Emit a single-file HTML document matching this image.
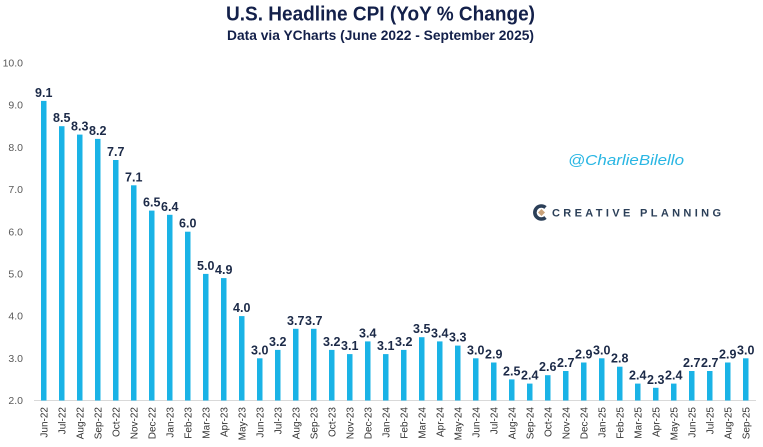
<!DOCTYPE html>
<html><head><meta charset="utf-8"><style>
html,body{margin:0;padding:0;background:#fff;}
svg{display:block;}
text{font-family:"Liberation Sans",Arial,sans-serif;}
.v{font-size:12.5px;font-weight:bold;fill:#1c2a48;text-anchor:middle;}
.t{font-size:10.5px;fill:#595959;text-anchor:end;}
.x{font-size:10px;fill:#333;text-anchor:end;}
</style></head><body>
<svg width="763" height="447" viewBox="0 0 763 447" xmlns="http://www.w3.org/2000/svg">
<rect width="763" height="447" fill="#fff"/>
<text x="226" y="20.5" font-size="20" font-weight="bold" fill="#13204a" textLength="309" lengthAdjust="spacingAndGlyphs">U.S. Headline CPI (YoY % Change)</text>
<text x="227" y="40" font-size="14" font-weight="bold" fill="#13204a" textLength="307" lengthAdjust="spacingAndGlyphs">Data via YCharts (June 2022 - September 2025)</text>

<g>
<text class="t" x="23" y="66.5">10.0</text>
<text class="t" x="23" y="108.7">9.0</text>
<text class="t" x="23" y="150.9">8.0</text>
<text class="t" x="23" y="193.1">7.0</text>
<text class="t" x="23" y="235.3">6.0</text>
<text class="t" x="23" y="277.5">5.0</text>
<text class="t" x="23" y="319.7">4.0</text>
<text class="t" x="23" y="361.9">3.0</text>
<text class="t" x="23" y="404.1">2.0</text>
</g>

<line x1="34" y1="400.5" x2="756" y2="400.5" stroke="#d9d9d9" stroke-width="1"/>

<g fill="#1ab3e6">
<rect x="41" y="100.9" width="5.5" height="299.6"/>
<rect x="59" y="126.2" width="5.5" height="274.3"/>
<rect x="77" y="134.6" width="5.5" height="265.9"/>
<rect x="95" y="138.9" width="5.5" height="261.6"/>
<rect x="113" y="160.0" width="5.5" height="240.5"/>
<rect x="131" y="185.3" width="5.5" height="215.2"/>
<rect x="149" y="210.6" width="5.5" height="189.9"/>
<rect x="167" y="214.8" width="5.5" height="185.7"/>
<rect x="185" y="231.7" width="5.5" height="168.8"/>
<rect x="203" y="273.9" width="5.5" height="126.6"/>
<rect x="221" y="278.1" width="5.5" height="122.4"/>
<rect x="239" y="316.1" width="5.5" height="84.4"/>
<rect x="257" y="358.3" width="5.5" height="42.2"/>
<rect x="275" y="349.9" width="5.5" height="50.6"/>
<rect x="293" y="328.8" width="5.5" height="71.7"/>
<rect x="311" y="328.8" width="5.5" height="71.7"/>
<rect x="329" y="349.9" width="5.5" height="50.6"/>
<rect x="347" y="354.1" width="5.5" height="46.4"/>
<rect x="365" y="341.4" width="5.5" height="59.1"/>
<rect x="383" y="354.1" width="5.5" height="46.4"/>
<rect x="401" y="349.9" width="5.5" height="50.6"/>
<rect x="419" y="337.2" width="5.5" height="63.3"/>
<rect x="437" y="341.4" width="5.5" height="59.1"/>
<rect x="455" y="345.6" width="5.5" height="54.9"/>
<rect x="473" y="358.3" width="5.5" height="42.2"/>
<rect x="491" y="362.5" width="5.5" height="38.0"/>
<rect x="509" y="379.4" width="5.5" height="21.1"/>
<rect x="527" y="383.6" width="5.5" height="16.9"/>
<rect x="545" y="375.2" width="5.5" height="25.3"/>
<rect x="563" y="371.0" width="5.5" height="29.5"/>
<rect x="581" y="362.5" width="5.5" height="38.0"/>
<rect x="599" y="358.3" width="5.5" height="42.2"/>
<rect x="617" y="366.7" width="5.5" height="33.8"/>
<rect x="635" y="383.6" width="5.5" height="16.9"/>
<rect x="653" y="387.8" width="5.5" height="12.7"/>
<rect x="671" y="383.6" width="5.5" height="16.9"/>
<rect x="689" y="371.0" width="5.5" height="29.5"/>
<rect x="707" y="371.0" width="5.5" height="29.5"/>
<rect x="725" y="362.5" width="5.5" height="38.0"/>
<rect x="743" y="358.3" width="5.5" height="42.2"/>
</g>

<g>
<text class="v" x="43.75" y="96.9">9.1</text>
<text class="v" x="61.75" y="122.2">8.5</text>
<text class="v" x="79.75" y="130.6">8.3</text>
<text class="v" x="97.75" y="134.9">8.2</text>
<text class="v" x="115.75" y="156.0">7.7</text>
<text class="v" x="133.75" y="181.3">7.1</text>
<text class="v" x="151.75" y="206.6">6.5</text>
<text class="v" x="169.75" y="210.8">6.4</text>
<text class="v" x="187.75" y="227.7">6.0</text>
<text class="v" x="205.75" y="269.9">5.0</text>
<text class="v" x="223.75" y="274.1">4.9</text>
<text class="v" x="241.75" y="312.1">4.0</text>
<text class="v" x="259.75" y="354.3">3.0</text>
<text class="v" x="277.75" y="345.9">3.2</text>
<text class="v" x="295.75" y="324.8">3.7</text>
<text class="v" x="313.75" y="324.8">3.7</text>
<text class="v" x="331.75" y="345.9">3.2</text>
<text class="v" x="349.75" y="350.1">3.1</text>
<text class="v" x="367.75" y="337.4">3.4</text>
<text class="v" x="385.75" y="350.1">3.1</text>
<text class="v" x="403.75" y="345.9">3.2</text>
<text class="v" x="421.75" y="333.2">3.5</text>
<text class="v" x="439.75" y="337.4">3.4</text>
<text class="v" x="457.75" y="341.6">3.3</text>
<text class="v" x="475.75" y="354.3">3.0</text>
<text class="v" x="493.75" y="358.5">2.9</text>
<text class="v" x="511.75" y="375.4">2.5</text>
<text class="v" x="529.75" y="379.6">2.4</text>
<text class="v" x="547.75" y="371.2">2.6</text>
<text class="v" x="565.75" y="367.0">2.7</text>
<text class="v" x="583.75" y="358.5">2.9</text>
<text class="v" x="601.75" y="354.3">3.0</text>
<text class="v" x="619.75" y="362.7">2.8</text>
<text class="v" x="637.75" y="379.6">2.4</text>
<text class="v" x="655.75" y="383.8">2.3</text>
<text class="v" x="673.75" y="379.6">2.4</text>
<text class="v" x="691.75" y="367.0">2.7</text>
<text class="v" x="709.75" y="367.0">2.7</text>
<text class="v" x="727.75" y="358.5">2.9</text>
<text class="v" x="745.75" y="354.3">3.0</text>
</g>

<g>
<text class="x" transform="translate(47.25,407) rotate(-90)">Jun-22</text>
<text class="x" transform="translate(65.25,407) rotate(-90)">Jul-22</text>
<text class="x" transform="translate(83.25,407) rotate(-90)">Aug-22</text>
<text class="x" transform="translate(101.25,407) rotate(-90)">Sep-22</text>
<text class="x" transform="translate(119.25,407) rotate(-90)">Oct-22</text>
<text class="x" transform="translate(137.25,407) rotate(-90)">Nov-22</text>
<text class="x" transform="translate(155.25,407) rotate(-90)">Dec-22</text>
<text class="x" transform="translate(173.25,407) rotate(-90)">Jan-23</text>
<text class="x" transform="translate(191.25,407) rotate(-90)">Feb-23</text>
<text class="x" transform="translate(209.25,407) rotate(-90)">Mar-23</text>
<text class="x" transform="translate(227.25,407) rotate(-90)">Apr-23</text>
<text class="x" transform="translate(245.25,407) rotate(-90)">May-23</text>
<text class="x" transform="translate(263.25,407) rotate(-90)">Jun-23</text>
<text class="x" transform="translate(281.25,407) rotate(-90)">Jul-23</text>
<text class="x" transform="translate(299.25,407) rotate(-90)">Aug-23</text>
<text class="x" transform="translate(317.25,407) rotate(-90)">Sep-23</text>
<text class="x" transform="translate(335.25,407) rotate(-90)">Oct-23</text>
<text class="x" transform="translate(353.25,407) rotate(-90)">Nov-23</text>
<text class="x" transform="translate(371.25,407) rotate(-90)">Dec-23</text>
<text class="x" transform="translate(389.25,407) rotate(-90)">Jan-24</text>
<text class="x" transform="translate(407.25,407) rotate(-90)">Feb-24</text>
<text class="x" transform="translate(425.25,407) rotate(-90)">Mar-24</text>
<text class="x" transform="translate(443.25,407) rotate(-90)">Apr-24</text>
<text class="x" transform="translate(461.25,407) rotate(-90)">May-24</text>
<text class="x" transform="translate(479.25,407) rotate(-90)">Jun-24</text>
<text class="x" transform="translate(497.25,407) rotate(-90)">Jul-24</text>
<text class="x" transform="translate(515.25,407) rotate(-90)">Aug-24</text>
<text class="x" transform="translate(533.25,407) rotate(-90)">Sep-24</text>
<text class="x" transform="translate(551.25,407) rotate(-90)">Oct-24</text>
<text class="x" transform="translate(569.25,407) rotate(-90)">Nov-24</text>
<text class="x" transform="translate(587.25,407) rotate(-90)">Dec-24</text>
<text class="x" transform="translate(605.25,407) rotate(-90)">Jan-25</text>
<text class="x" transform="translate(623.25,407) rotate(-90)">Feb-25</text>
<text class="x" transform="translate(641.25,407) rotate(-90)">Mar-25</text>
<text class="x" transform="translate(659.25,407) rotate(-90)">Apr-25</text>
<text class="x" transform="translate(677.25,407) rotate(-90)">May-25</text>
<text class="x" transform="translate(695.25,407) rotate(-90)">Jun-25</text>
<text class="x" transform="translate(713.25,407) rotate(-90)">Jul-25</text>
<text class="x" transform="translate(731.25,407) rotate(-90)">Aug-25</text>
<text class="x" transform="translate(749.25,407) rotate(-90)">Sep-25</text>
</g>

<text x="568" y="165" font-size="15" font-style="italic" fill="#29b6e3" textLength="116" lengthAdjust="spacingAndGlyphs">@CharlieBilello</text>

<g>
<path d="M545.5,207.5 A6.5,6.5 0 1 0 545.5,217.5" fill="none" stroke="#2b3f58" stroke-width="3.6"/>
<polygon points="541.5,209 545,212.5 541.5,216 538,212.5" fill="#c9a27a"/>
<text x="552" y="216.5" font-size="11" font-weight="bold" fill="#2b3f58" textLength="169" lengthAdjust="spacing">CREATIVE PLANNING</text>
</g>
</svg>
</body></html>
